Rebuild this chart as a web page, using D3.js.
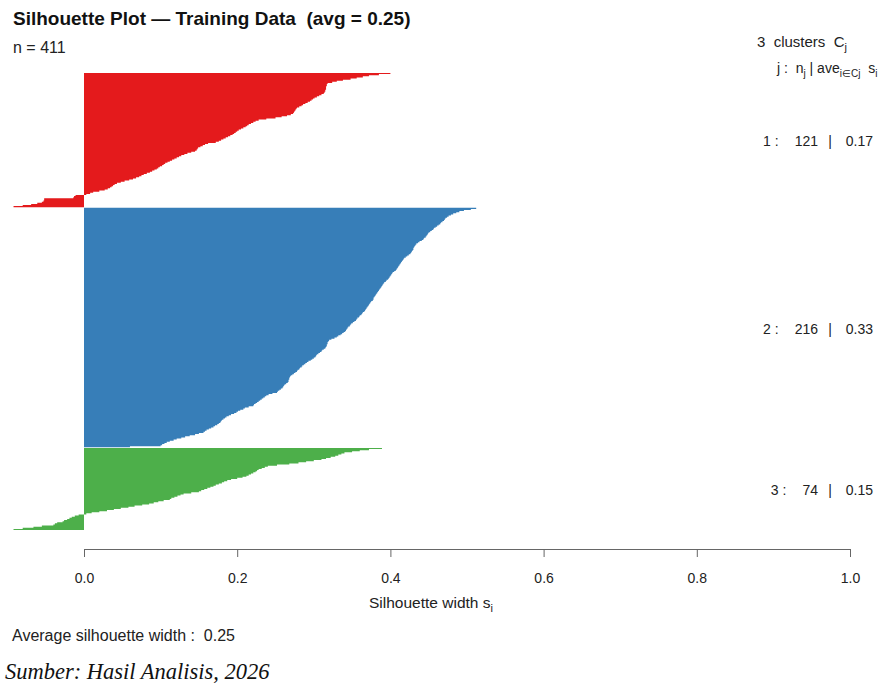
<!DOCTYPE html>
<html>
<head>
<meta charset="utf-8">
<script src="https://cdn.jsdelivr.net/npm/d3@7"></script>
<style>
  html, body { margin: 0; padding: 0; background: #fff; }
  svg { display: block; font-family: "Liberation Sans", Arial, sans-serif; }
  text { white-space: pre; }
</style>
</head>
<body>
<svg id="chart" width="884" height="683"></svg>
<script>
// Silhouette widths per cluster, sorted from largest to smallest
const sil1 = [
  0.400, 0.385, 0.372, 0.364, 0.356, 0.348, 0.338, 0.330, 0.324, 0.318,
  0.317, 0.317, 0.316, 0.316, 0.316, 0.315, 0.315, 0.314, 0.313, 0.310,
  0.307, 0.304, 0.301, 0.299, 0.297, 0.295, 0.292, 0.289, 0.286, 0.284,
  0.281, 0.278, 0.277, 0.276, 0.275, 0.274, 0.273, 0.270, 0.265, 0.258,
  0.250, 0.238, 0.228, 0.224, 0.221, 0.218, 0.215, 0.213, 0.211, 0.208,
  0.205, 0.202, 0.200, 0.198, 0.196, 0.194, 0.191, 0.188, 0.185, 0.182,
  0.179, 0.176, 0.172, 0.162, 0.158, 0.155, 0.152, 0.149, 0.148, 0.147,
  0.145, 0.140, 0.135, 0.131, 0.127, 0.124, 0.121, 0.118, 0.115, 0.112,
  0.109, 0.106, 0.104, 0.102, 0.099, 0.097, 0.095, 0.092, 0.089, 0.086,
  0.082, 0.078, 0.075, 0.072, 0.068, 0.064, 0.059, 0.053, 0.048, 0.043,
  0.040, 0.038, 0.036, 0.034, 0.031, 0.027, 0.020, 0.012, 0.008, 0.003,
  -0.011, -0.013, -0.014, -0.052, -0.052, -0.053, -0.055, -0.061, -0.069, -0.080, -0.092
];
const sil2 = [
  0.512, 0.505, 0.496, 0.490, 0.486, 0.482, 0.479, 0.476, 0.474, 0.472,
  0.471, 0.470, 0.468, 0.466, 0.465, 0.463, 0.461, 0.459, 0.457, 0.456,
  0.454, 0.452, 0.450, 0.449, 0.448, 0.447, 0.446, 0.444, 0.443, 0.441,
  0.438, 0.436, 0.434, 0.433, 0.432, 0.431, 0.430, 0.430, 0.429, 0.428,
  0.427, 0.426, 0.424, 0.422, 0.420, 0.418, 0.417, 0.416, 0.415, 0.414,
  0.413, 0.412, 0.411, 0.410, 0.409, 0.408, 0.407, 0.405, 0.403, 0.402,
  0.401, 0.400, 0.399, 0.398, 0.397, 0.395, 0.394, 0.392, 0.391, 0.390,
  0.389, 0.388, 0.387, 0.386, 0.385, 0.384, 0.383, 0.382, 0.381, 0.380,
  0.379, 0.378, 0.378, 0.377, 0.375, 0.374, 0.373, 0.372, 0.371, 0.370,
  0.369, 0.368, 0.367, 0.366, 0.364, 0.363, 0.362, 0.360, 0.359, 0.357,
  0.356, 0.355, 0.353, 0.351, 0.349, 0.348, 0.347, 0.345, 0.344, 0.343,
  0.342, 0.341, 0.339, 0.337, 0.335, 0.332, 0.330, 0.327, 0.323, 0.320,
  0.319, 0.318, 0.318, 0.317, 0.317, 0.316, 0.315, 0.313, 0.311, 0.310,
  0.308, 0.306, 0.304, 0.303, 0.302, 0.300, 0.298, 0.296, 0.293, 0.291,
  0.289, 0.287, 0.285, 0.284, 0.282, 0.281, 0.279, 0.278, 0.276, 0.274,
  0.272, 0.270, 0.269, 0.268, 0.268, 0.267, 0.267, 0.266, 0.264, 0.262,
  0.261, 0.260, 0.259, 0.257, 0.255, 0.253, 0.252, 0.246, 0.241, 0.238,
  0.236, 0.234, 0.232, 0.230, 0.228, 0.226, 0.224, 0.222, 0.221, 0.215,
  0.210, 0.208, 0.204, 0.201, 0.199, 0.196, 0.192, 0.189, 0.186, 0.184,
  0.182, 0.180, 0.179, 0.178, 0.176, 0.174, 0.171, 0.169, 0.166, 0.163,
  0.160, 0.158, 0.156, 0.150, 0.145, 0.138, 0.132, 0.127, 0.121, 0.117,
  0.112, 0.108, 0.105, 0.102, 0.100, 0.060
];
const sil3 = [
  0.389, 0.372, 0.360, 0.350, 0.340, 0.336, 0.332, 0.328, 0.322, 0.316,
  0.310, 0.300, 0.290, 0.280, 0.268, 0.252, 0.240, 0.236, 0.232, 0.228,
  0.226, 0.224, 0.221, 0.218, 0.215, 0.212, 0.207, 0.200, 0.192, 0.187,
  0.183, 0.180, 0.176, 0.172, 0.169, 0.165, 0.161, 0.157, 0.153, 0.150,
  0.140, 0.130, 0.126, 0.122, 0.118, 0.114, 0.112, 0.104, 0.097, 0.091,
  0.085, 0.076, 0.066, 0.058, 0.048, 0.039, 0.030, 0.020, 0.010, 0.003,
  -0.007, -0.012, -0.016, -0.019, -0.022, -0.026, -0.028, -0.035, -0.038, -0.040,
  -0.055, -0.066, -0.080, -0.092
];
const clusterIds = [1, 2, 3];
const clusterColors = ["#E41A1C", "#377EB8", "#4DAF4A"];
const xTicks = [0, 0.2, 0.4, 0.6, 0.8, 1.0];

const clusters = [sil1, sil2, sil3].map((vals, k) => ({ id: clusterIds[k], vals, color: clusterColors[k] }));
const nTotal = d3.sum(clusters, c => c.vals.length);
const avgAll = d3.mean(clusters.flatMap(c => c.vals));
const fmt2 = d3.format(".2f");

// Bar positions: one unit per observation, half a unit of space between clusters
const GAP = 0.5;
let offset = 0;
clusters.forEach((c, k) => {
  c.start = offset;
  offset += c.vals.length + (k < clusters.length - 1 ? GAP : 0);
  c.end = c.start + c.vals.length;
});
const totalUnits = offset;

const svg = d3.select("#chart");
const x = d3.scaleLinear().domain([0, 1]).range([84, 850]);
const y = d3.scaleLinear().domain([0, totalUnits]).range([73, 530]);

// Each cluster's bars are drawn as one stepped area so adjacent bars join without seams:
// bar i spans [start+i, start+i+1] vertically and [0, s_i] horizontally.
const barArea = d3.area()
  .curve(d3.curveStepBefore)
  .y(d => y(d.pos))
  .x0(x(0))
  .x1(d => x(d.v));

clusters.forEach(c => {
  const pts = c.vals.map((v, i) => ({ pos: c.start + i, v }));
  pts.push({ pos: c.end, v: c.vals[c.vals.length - 1] });
  svg.append("path")
    .datum(pts)
    .attr("fill", c.color)
    .attr("d", barArea);
});

// X axis
const axis = svg.append("g")
  .attr("transform", "translate(0,549)")
  .call(d3.axisBottom(x).tickValues(xTicks).tickFormat(d3.format(".1f")).tickSize(8).tickSizeOuter(0).tickPadding(16));
axis.select(".domain").attr("stroke", "#666");
axis.selectAll(".tick line").attr("stroke", "#666");
axis.selectAll(".tick text").attr("font-size", 14).attr("fill", "#222")
  .attr("font-family", "'Liberation Sans', Arial, sans-serif");

// Titles and annotations
svg.append("text").attr("x", 13).attr("y", 25)
  .attr("font-weight", "bold").attr("font-size", 19).attr("fill", "#111")
  .text(`Silhouette Plot \u2014 Training Data  (avg = ${fmt2(avgAll)})`);

svg.append("text").attr("x", 13).attr("y", 53)
  .attr("font-size", 16).attr("fill", "#222")
  .text(`n = ${nTotal}`);

const leg1 = svg.append("text").attr("x", 757).attr("y", 47)
  .attr("font-size", 15).attr("fill", "#222");
leg1.append("tspan").text(`${clusters.length}  clusters  C`);
leg1.append("tspan").attr("dy", 4).attr("font-size", 11).text("j");

const leg2 = svg.append("text").attr("x", 777).attr("y", 73)
  .attr("font-size", 14).attr("fill", "#222");
leg2.append("tspan").text("j :  n");
leg2.append("tspan").attr("dy", 4).attr("font-size", 10).text("j");
leg2.append("tspan").attr("dy", -4).text(" | ave");
leg2.append("tspan").attr("dy", 4).attr("font-size", 10).text("i\u2208Cj");
leg2.append("tspan").attr("dy", -4).text("  s");
leg2.append("tspan").attr("dy", 4).attr("font-size", 10).text("i");

// Per-cluster summary: size and average silhouette width
clusters.forEach(c => {
  const yMid = (y(c.start) + y(c.end)) / 2 + 6;
  const g = svg.append("g").attr("font-size", 14).attr("fill", "#222");
  const cnt = g.append("text").attr("x", 818).attr("y", yMid).attr("text-anchor", "end")
    .text(`${c.vals.length}`);
  const w = cnt.node().getComputedTextLength();
  g.append("text").attr("x", 818 - w - 16).attr("y", yMid).attr("text-anchor", "end").text(`${c.id} :`);
  g.append("text").attr("x", 830).attr("y", yMid).attr("text-anchor", "middle").text("|");
  g.append("text").attr("x", 873).attr("y", yMid).attr("text-anchor", "end").text(fmt2(d3.mean(c.vals)));
});

const xl = svg.append("text").attr("x", 431).attr("y", 608).attr("text-anchor", "middle")
  .attr("font-size", 15.5).attr("fill", "#222");
xl.append("tspan").text("Silhouette width s");
xl.append("tspan").attr("dy", 4).attr("font-size", 11).text("i");

svg.append("text").attr("x", 12).attr("y", 641)
  .attr("font-size", 16).attr("fill", "#222")
  .text(`Average silhouette width :  ${fmt2(avgAll)}`);

svg.append("text").attr("x", 5).attr("y", 679)
  .attr("font-family", "'Liberation Serif', 'Times New Roman', serif")
  .attr("font-style", "italic").attr("font-size", 22.5).attr("fill", "#111")
  .text("Sumber: Hasil Analisis, 2026");
</script>
</body>
</html>
